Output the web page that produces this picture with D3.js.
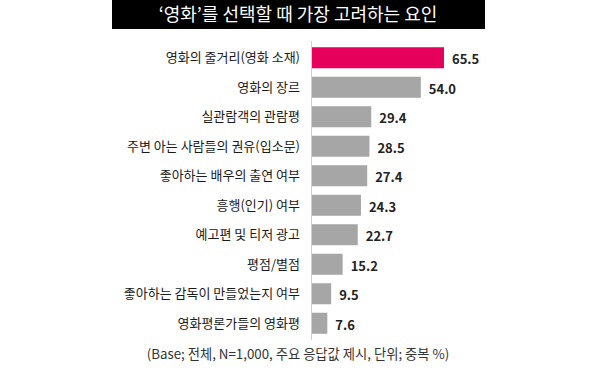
<!DOCTYPE html>
<html><head><meta charset="utf-8">
<script src="https://cdn.jsdelivr.net/npm/d3@7"></script>
<style>body{margin:0;background:#fff}svg{display:block}</style>
</head><body><svg id="c" width="600" height="378"></svg>
<script>
const title = "‘영화’를 선택할 때 가장 고려하는 요인";
const categories = ["영화의 줄거리(영화 소재)","영화의 장르","실관람객의 관람평","주변 아는 사람들의 권유(입소문)","좋아하는 배우의 출연 여부","흥행(인기) 여부","예고편 및 티저 광고","평점/별점","좋아하는 감독이 만들었는지 여부","영화평론가들의 영화평"];
const values = [65.5,54.0,29.4,28.5,27.4,24.3,22.7,15.2,9.5,7.6];
const footnote = "(Base; 전체, N=1,000, 주요 응답값 제시, 단위; 중복 %)";

const svg = d3.select("#c");
const font = "'Noto Sans CJK KR','Noto Sans',sans-serif";

svg.append("rect").attr("x",112).attr("y",0).attr("width",373).attr("height",29).attr("fill","#000");
svg.append("text").attr("x",298).attr("y",21).attr("text-anchor","middle")
  .attr("fill","#fff").attr("font-family",font).attr("font-size",18).text(title);

const x = d3.scaleLinear().domain([0,100]).range([312,513.5]);
const y = d3.scaleBand().domain(categories).range([43,338]).paddingInner(0.288).paddingOuter(0.144);

svg.append("line").attr("x1",311.5).attr("x2",311.5).attr("y1",41).attr("y2",340)
  .attr("stroke","#d0d0d0").attr("stroke-width",1);

svg.selectAll("rect.bar").data(values).join("rect").attr("class","bar")
  .attr("x",x(0)).attr("y",(d,i)=>y(categories[i]))
  .attr("width",d=>x(d)-x(0)).attr("height",y.bandwidth())
  .attr("fill",(d,i)=>i===0?"#e6005b":"#a6a6a6");

svg.selectAll("text.cat").data(categories).join("text").attr("class","cat")
  .attr("x",300).attr("y",d=>y(d)+y.bandwidth()/2).attr("dy","0.35em")
  .attr("text-anchor","end").attr("font-family",font).attr("font-size",13)
  .attr("fill","#1a1a1a").text(d=>d);

svg.selectAll("text.val").data(values).join("text").attr("class","val")
  .attr("x",d=>x(d)+8).attr("y",(d,i)=>y(categories[i])+y.bandwidth()/2+2).attr("dy","0.35em")
  .attr("font-family",font).attr("font-weight","bold").attr("font-size",13)
  .attr("fill","#222").text(d=>d.toFixed(1));

svg.append("text").attr("x",298).attr("y",359).attr("text-anchor","middle")
  .attr("font-family",font).attr("font-size",13.3).attr("fill","#333").text(footnote);
</script></body></html>
